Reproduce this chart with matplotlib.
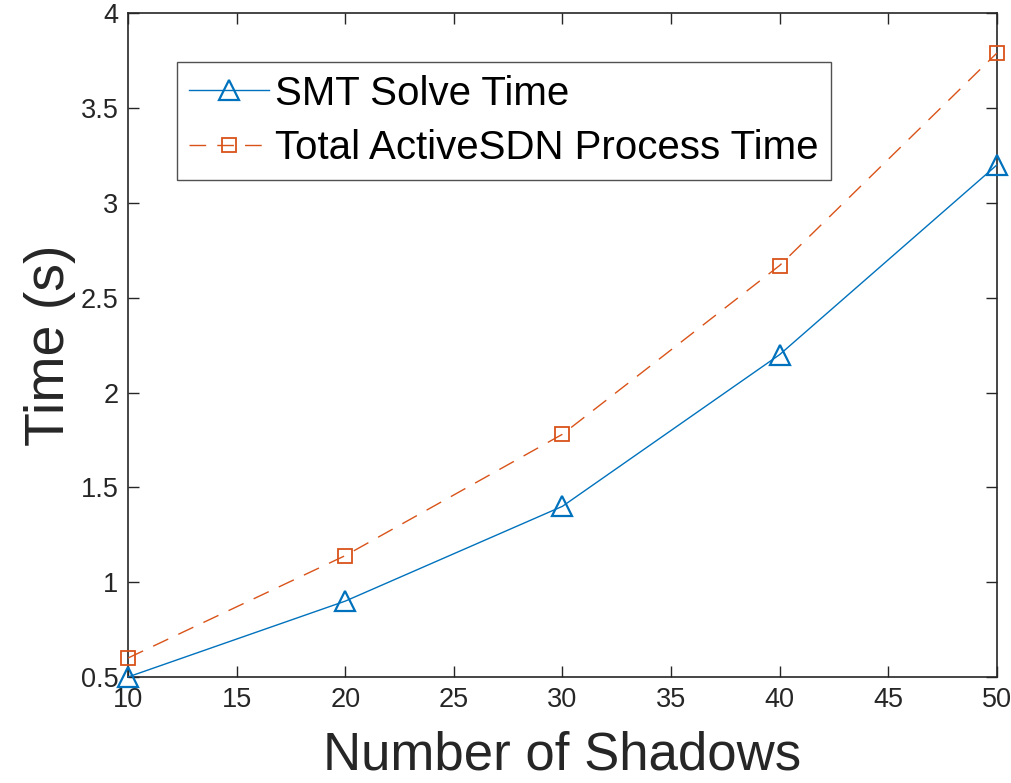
import numpy as np
import matplotlib.pyplot as plt

plt.rcParams['font.family'] = ['Liberation Sans', 'DejaVu Sans']

# data
shadows = [10, 20, 30, 40, 50]
smt_time = [0.5, 0.9, 1.4, 2.2, 3.2]
total_time = [0.6, 1.14, 1.78, 2.67, 3.79]

fig = plt.figure(figsize=(10.12, 7.83), dpi=100)
ax = fig.add_axes([0.1265, 0.1354, 0.8585, 0.8476])

ax.plot(shadows, smt_time, color="#0072BD", lw=1.0, marker="^", ms=14,
        mfc="none", mew=1.6, label="SMT Solve Time", clip_on=False, zorder=3)
ax.plot(shadows, total_time, color="#D95319", lw=1.0, ls=(0, (12, 8)), marker="s",
        ms=10, mfc="none", mew=1.3, label="Total ActiveSDN Process Time",
        clip_on=False, zorder=3)

ax.set_xlim(10, 50)
ax.set_ylim(0.5, 4)
ax.set_xticks(np.arange(10, 51, 5))
ax.set_yticks(np.arange(0.5, 4.01, 0.5))
ax.set_yticklabels(["0.5", "1", "1.5", "2", "2.5", "3", "3.5", "4"])
ax.tick_params(direction="in", length=8, width=1, top=True, right=True,
               labelsize=19.5, colors="#262626", pad=7)
for s in ax.spines.values():
    s.set_color("#262626")
    s.set_linewidth(1.2)

ax.set_xlabel("Number of Shadows", fontsize=38, color="#262626", labelpad=13)
ax.set_ylabel("Time (s)", fontsize=40, color="#262626", labelpad=3)

leg = ax.legend(loc="upper left", bbox_to_anchor=(0.056, 0.926), fontsize=29,
                frameon=True, fancybox=False, handlelength=1.98, handletextpad=0.17,
                borderpad=0.3, labelspacing=0.42, borderaxespad=0)
leg.get_frame().set_edgecolor("#262626")
leg.get_frame().set_linewidth(1.0)

plt.savefig("out.png", dpi=100)
